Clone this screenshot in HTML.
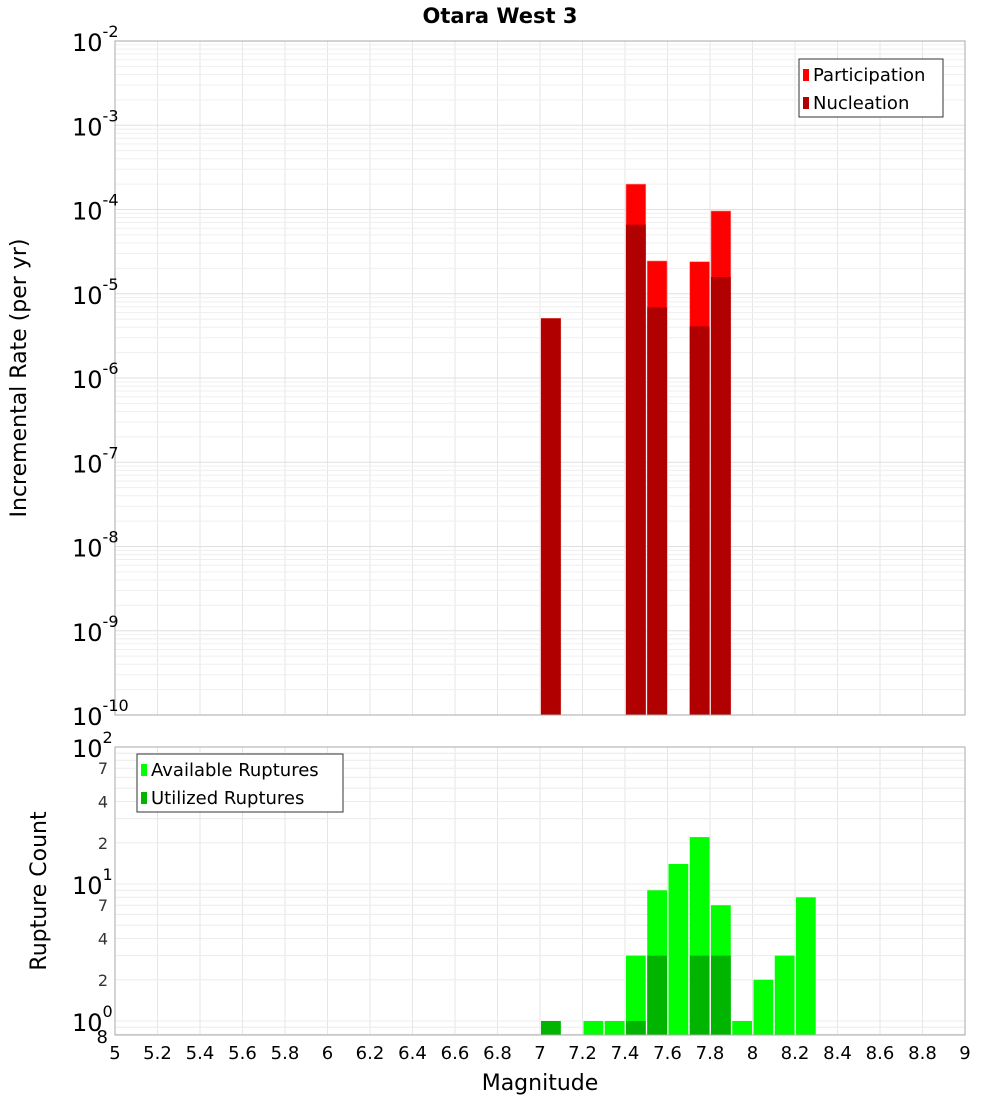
<!DOCTYPE html>
<html><head><meta charset="utf-8"><style>
body{margin:0;background:#fff}
svg{display:block;font-family:"DejaVu Sans","Liberation Sans",sans-serif}
</style></head><body>
<svg id="c" width="1000" height="1100" xmlns="http://www.w3.org/2000/svg">
<text x="500" y="23" text-anchor="middle" font-size="21" font-weight="bold">Otara West 3</text>
<g id="g"></g>
</svg>
<script>
const rateBins=[7.05,7.45,7.55,7.75,7.85];
const participation=[5.1e-6,2.0e-4,2.45e-5,2.4e-5,9.6e-5];
const nucleation=[5.1e-6,6.6e-5,6.9e-6,4.1e-6,1.58e-5];
const countBins=[7.05,7.25,7.35,7.45,7.55,7.65,7.75,7.85,7.95,8.05,8.15,8.25];
const available=[1,1,1,3,9,14,22,7,1,2,3,8];
const utilized=[1,0,0,1,3,0,3,3,0,0,0,0];
const xTicks=[5,5.2,5.4,5.6,5.8,6,6.2,6.4,6.6,6.8,7,7.2,7.4,7.6,7.8,8,8.2,8.4,8.6,8.8,9];
const topDecades=[-10,-9,-8,-7,-6,-5,-4,-3,-2];
const botMinor=[2,4,7,20,40,70];

const NS="http://www.w3.org/2000/svg";
const g=document.getElementById('g');
function el(t,a,txt){const e=document.createElementNS(NS,t);for(const k in a)e.setAttribute(k,a[k]);if(txt!==undefined)e.textContent=txt;g.appendChild(e);return e;}
const L=115,R=965;
const x=m=>L+(m-5)/4*(R-L);
const T0=41,T1=715;
const yT=v=>T0+(-2-Math.log10(v))/8*(T1-T0);
const B0=747,B1=1035,bdec=137;
const yB=v=>B0+(2-Math.log10(v))*bdec;

// grids
for(let i=0;i<=40;i++){const m=5+i*0.1;if(Math.abs(m*5-Math.round(m*5))<1e-6){
 let l=el('line',{x1:x(m),x2:x(m),y1:T0,y2:T1,stroke:'#e6e6e6'});
 let l2=el('line',{x1:x(m),x2:x(m),y1:B0,y2:B1,stroke:'#e6e6e6'});}}
for(let d=-10;d<-2;d++)for(let k=1;k<10;k++){const y=yT(k*Math.pow(10,d));
 const l=el('line',{x1:L,x2:R,y1:y,y2:y,stroke:k==1?'#e0e0e0':'#efefef'});}
for(let d=-1;d<2;d++)for(let k=1;k<10;k++){const v=k*Math.pow(10,d);if(v<0.8)continue;const y=yB(v);
 const l=el('line',{x1:L,x2:R,y1:y,y2:y,stroke:'#ececec'});}

// top bars
rateBins.forEach((m,i)=>{
 const x0=x(m-0.05)+1,w=x(m+0.05)-x(m-0.05)-1.5;
 let r=el('rect',{x:x0,y:yT(participation[i]),width:w,height:T1-yT(participation[i]),fill:'#ff0000',stroke:'#ff8080','stroke-width':0.6});
 
 let n=el('rect',{x:x0,y:yT(nucleation[i]),width:w,height:T1-yT(nucleation[i]),fill:'#b00000'});
 
});
// bottom bars
countBins.forEach((m,i)=>{
 const x0=x(m-0.05)+1,w=x(m+0.05)-x(m-0.05)-1.5;
 if(available[i]>0){let r=el('rect',{x:x0,y:yB(available[i]),width:w,height:B1-yB(available[i]),fill:'#00ff00'});
 }
 if(utilized[i]>0){let n=el('rect',{x:x0,y:yB(utilized[i]),width:w,height:B1-yB(utilized[i]),fill:'#00b400'});
 }
});
// frames
let f1=el('rect',{x:L,y:T0,width:R-L,height:T1-T0,fill:'none',stroke:'#aaa'});
let f2=el('rect',{x:L,y:B0,width:R-L,height:B1-B0,fill:'none',stroke:'#aaa'});

// top y labels
topDecades.forEach(d=>{const y=yT(Math.pow(10,d));
 const t=el('text',{x:72,y:y+10,'font-size':24});
 const a=document.createElementNS(NS,'tspan');a.textContent='10';t.appendChild(a);
 const b=document.createElementNS(NS,'tspan');b.setAttribute('font-size','16');b.setAttribute('dy','-14');b.textContent=String(d).replace('-','-');t.appendChild(b);
});
// bottom y labels
[[100,'2'],[10,'1'],[1,'0']].forEach(([v,e])=>{const y=yB(v);
 const t=el('text',{x:72,y:y+10,'font-size':24});
 const a=document.createElementNS(NS,'tspan');a.textContent='10';t.appendChild(a);
 const b=document.createElementNS(NS,'tspan');b.setAttribute('font-size','16');b.setAttribute('dy','-14');b.textContent=e;t.appendChild(b);});
botMinor.forEach(v=>{const t=el('text',{x:108,y:yB(v)+6,'font-size':16,'text-anchor':'end',fill:'#333'},String(v%10==0?v/10:v));
 });
let t8=el('text',{x:108,y:B1+8,'font-size':18,'text-anchor':'end'},'8');
// x labels
xTicks.forEach(m=>{const t=el('text',{x:x(m),y:1059,'font-size':18,'text-anchor':'middle'},String(m));
 });
let xt=el('text',{x:540,y:1090,'font-size':22,'text-anchor':'middle'},'Magnitude');
let yt1=el('text',{x:0,y:0,'font-size':22,'text-anchor':'middle',transform:'translate(26,378) rotate(-90)'},'Incremental Rate (per yr)');
let yt2=el('text',{x:0,y:0,'font-size':22,'text-anchor':'middle',transform:'translate(46,891) rotate(-90)'},'Rupture Count');

// legends
function legend(xx,yy,w,items,name){
 const r=el('rect',{x:xx,y:yy,width:w,height:58,fill:'#fff',stroke:'#333'});
 items.forEach(([c,lab],i)=>{
  const s=el('rect',{x:xx+4,y:yy+10+i*28,width:6,height:12,fill:c});
  const t=el('text',{x:xx+14,y:yy+22+i*28,'font-size':18},lab);
 });}
legend(799,59,144,[['#ff0000','Participation'],['#b00000','Nucleation']],'top-legend');
legend(137,754,206,[['#00ff00','Available Ruptures'],['#00b400','Utilized Ruptures']],'bottom-legend');
</script>
</body></html>
